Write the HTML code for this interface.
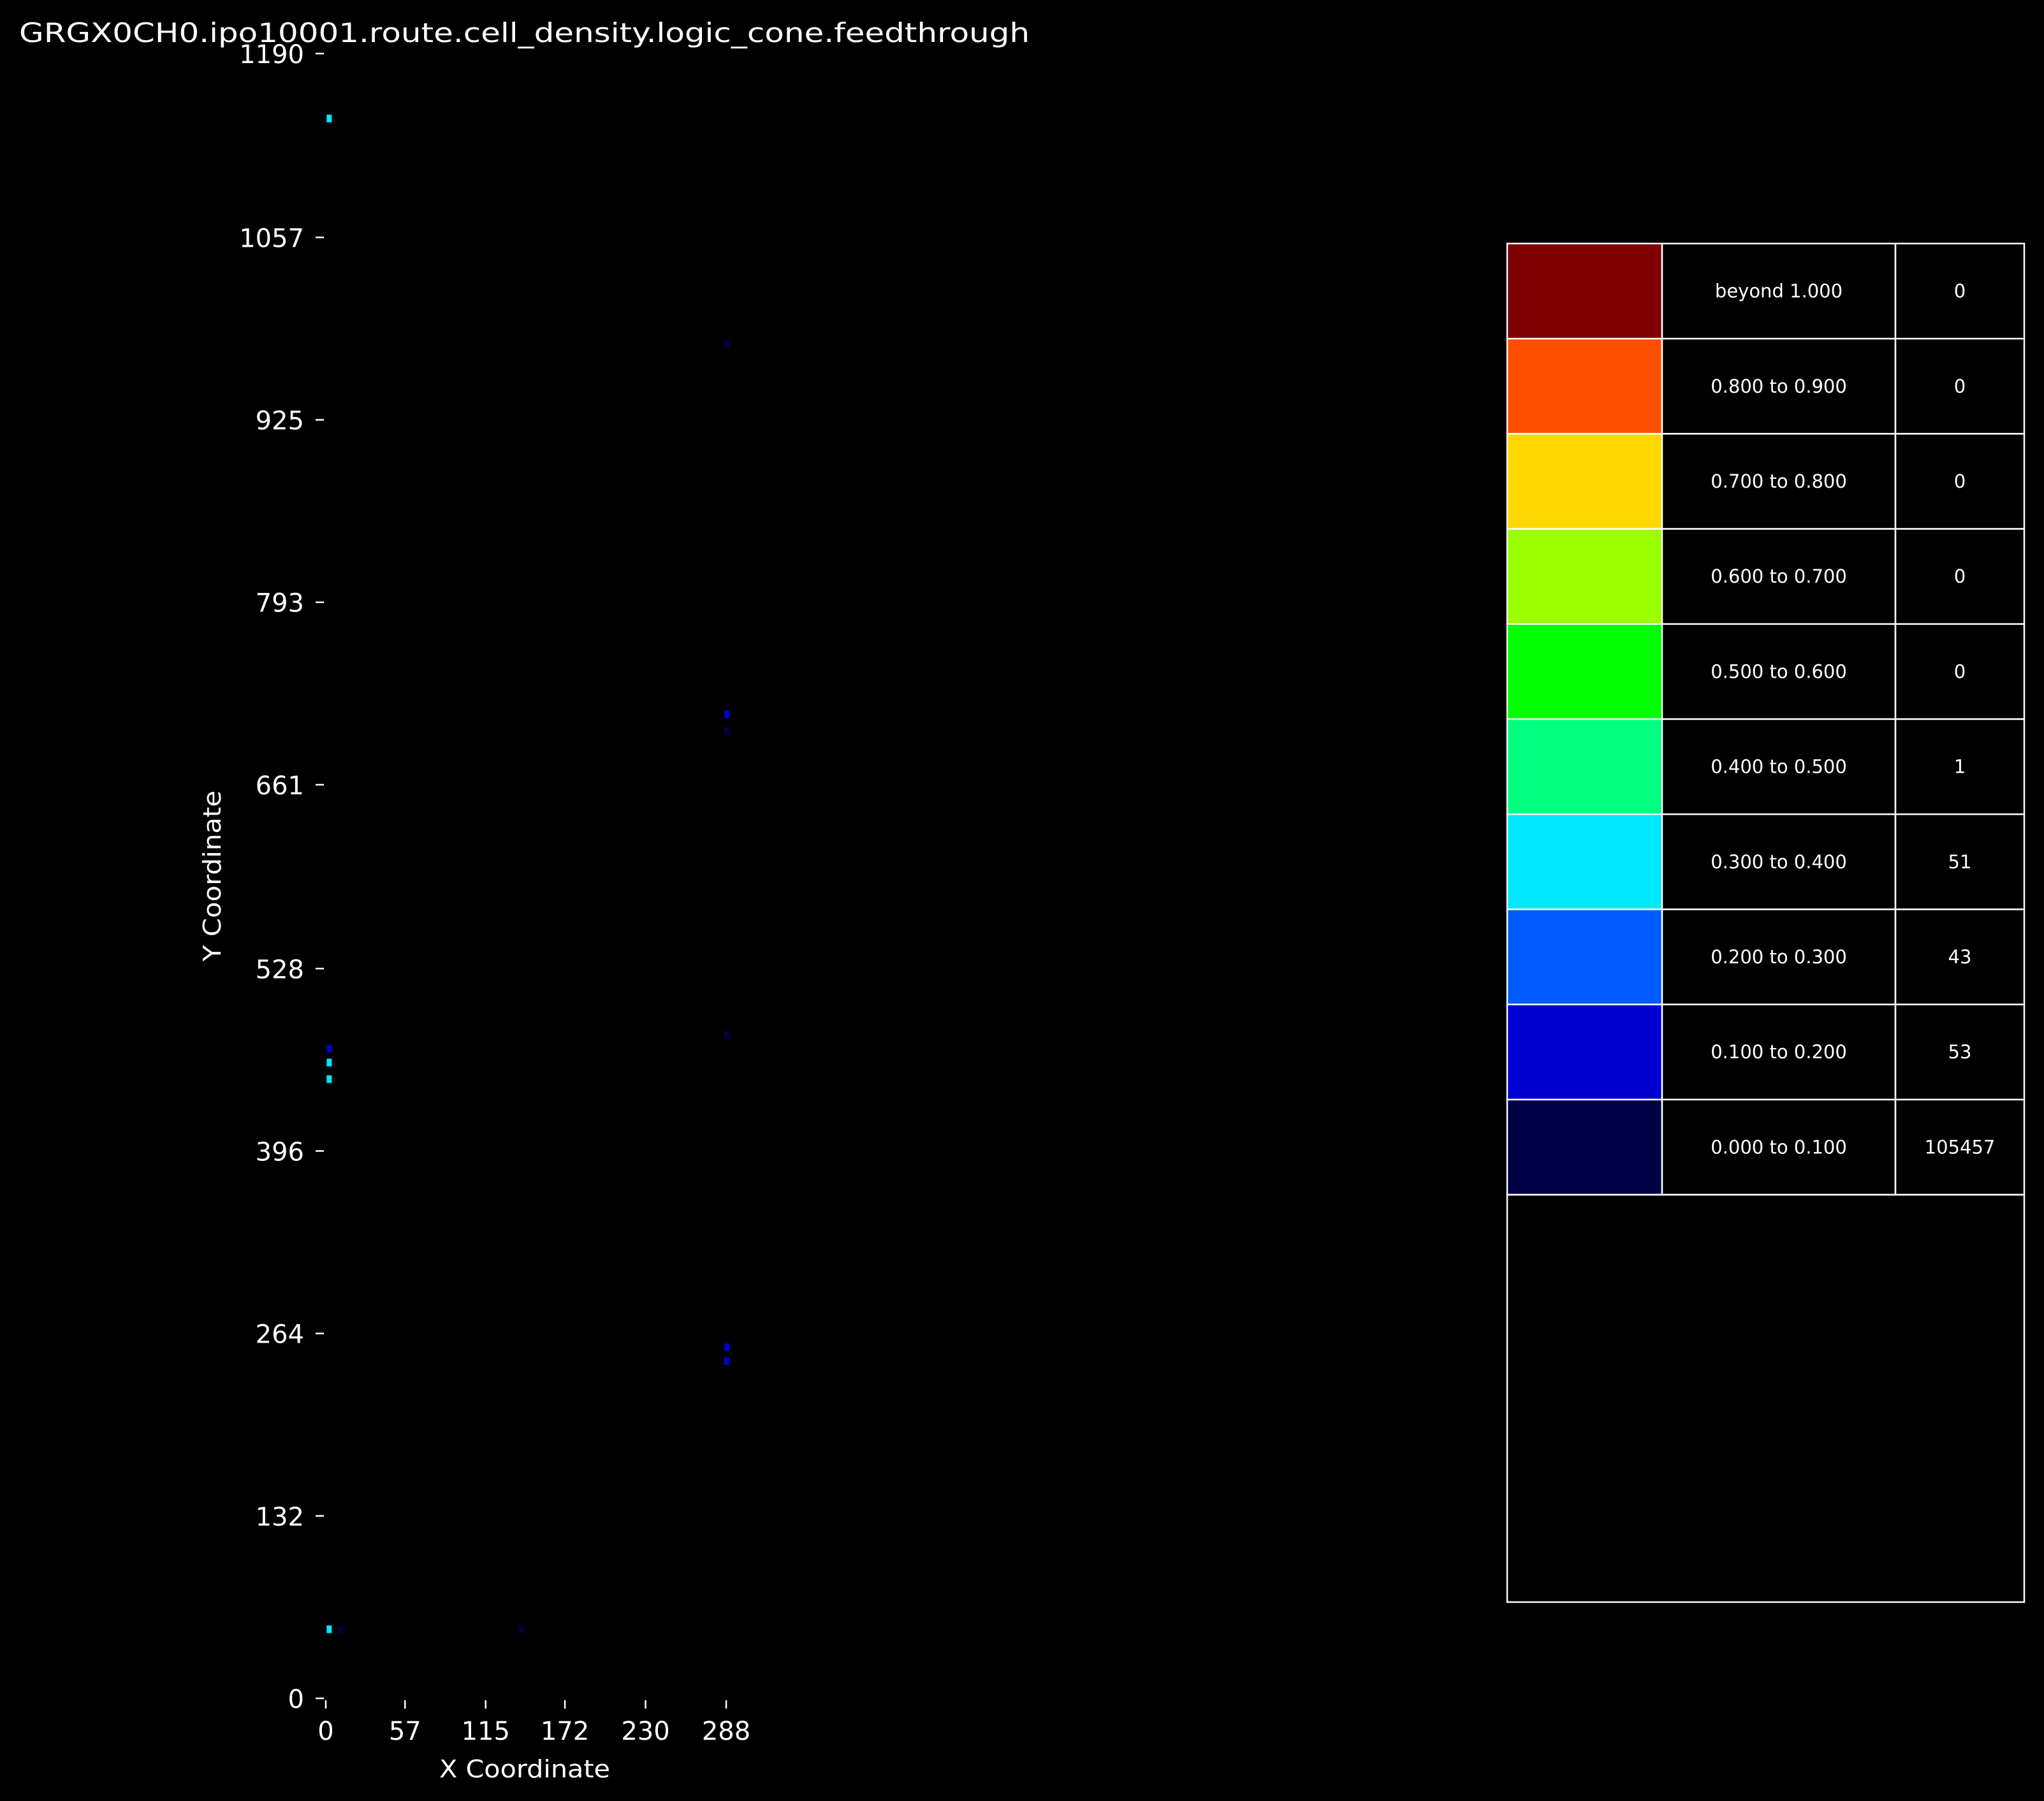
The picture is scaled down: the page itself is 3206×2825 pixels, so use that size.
<!DOCTYPE html>
<html><head><meta charset="utf-8"><style>
html,body{margin:0;padding:0;background:#000;}
svg{display:block;font-family:"DejaVu Sans","Liberation Sans",sans-serif;}
</style></head><body>
<svg id="chart" width="3206" height="2825" viewBox="0 0 3206 2825" xmlns="http://www.w3.org/2000/svg">
<rect width="3206" height="2825" fill="#000"/>
<text x="30" y="66" fill="#fff" font-size="42" textLength="1585" lengthAdjust="spacingAndGlyphs">GRGX0CH0.ipo10001.route.cell_density.logic_cone.feedthrough</text>
<g id="heat"></g>
<g id="yaxis"></g>
<g id="xaxis"></g>
<text x="0" y="0" transform="translate(346,1374) rotate(-90)" text-anchor="middle" fill="#fff" font-size="38" textLength="268" lengthAdjust="spacingAndGlyphs">Y Coordinate</text>
<text x="823" y="2788" text-anchor="middle" fill="#fff" font-size="38" textLength="268" lengthAdjust="spacingAndGlyphs">X Coordinate</text>
<g id="legend"></g>
</svg>
<script>
const xTicks=[0,57,115,172,230,288];
const yTicks=[0,132,264,396,528,661,793,925,1057,1190];
const cellX=[2,2,2,2,288,288,288,288,10,140,2,288,288];
const cellY=[1143,460,448,50,244,712,480,980,50,50,470,254,700];
const cellV=[0.35,0.32,0.34,0.33,0.12,0.12,0.06,0.05,0.07,0.05,0.15,0.15,0.08];
const legendLabels=["beyond 1.000","0.800 to 0.900","0.700 to 0.800","0.600 to 0.700","0.500 to 0.600","0.400 to 0.500","0.300 to 0.400","0.200 to 0.300","0.100 to 0.200","0.000 to 0.100"];
const legendCounts=["0","0","0","0","0","1","51","43","53","105457"];
const legendColors=["#7f0000","#ff5000","#ffd800","#9bff00","#00ff00","#00ff80","#00e8ff","#005cff","#0000d0","#000046"];
const NS="http://www.w3.org/2000/svg";
const X0=511,X1=1139,Y0=2664,Y1=84;
function sx(v){return X0+(v-0)*(X1-X0)/288;}
function sy(v){return Y0-(v-0)*(Y0-Y1)/1190;}
function mk(t,a,p){const e=document.createElementNS(NS,t);for(const k in a)e.setAttribute(k,a[k]);p.appendChild(e);return e;}
function col(v){
  if(v<0.1)return"#000046";if(v<0.2)return"#0000d0";if(v<0.3)return"#005cff";if(v<0.4)return"#00e8ff";if(v<0.5)return"#00ff80";
  if(v<0.6)return"#00ff00";if(v<0.7)return"#9bff00";if(v<0.8)return"#ffd800";if(v<1)return"#ff5000";return"#7f0000";}
const heat=document.getElementById('heat');
for(let i=0;i<cellX.length;i++){
  const r=mk('rect',{x:sx(cellX[i])-3,y:sy(cellY[i])-6,width:8,height:12,fill:col(cellV[i])},heat);
  
  
}
const ya=document.getElementById('yaxis');
yTicks.forEach(t=>{
  const y=sy(t);
  const l=mk('line',{x1:X0-16,x2:X0-3,y1:y,y2:y,stroke:'#fff','stroke-width':2.5},ya);
  
  
  const tx=mk('text',{x:X0-34,y:y+15,'text-anchor':'end',fill:'#fff','font-size':40},ya);
  tx.textContent=t;
  
  
});
const xa=document.getElementById('xaxis');
xTicks.forEach(t=>{
  const x=sx(t);
  const l=mk('line',{x1:x,x2:x,y1:Y0+3,y2:Y0+16,stroke:'#fff','stroke-width':2.5},xa);
  
  
  const tx=mk('text',{x:x,y:Y0+65,'text-anchor':'middle',fill:'#fff','font-size':40},xa);
  tx.textContent=t;
  
  
});
const lg=document.getElementById('legend');
const LX=[2364,2607,2973,3175],LY=382,RH=149.2;
legendLabels.forEach((lab,i)=>{
  const y=LY+i*RH;
  const c=mk('rect',{x:LX[0],y:y,width:LX[1]-LX[0],height:RH,fill:legendColors[i],stroke:'#fff','stroke-width':2.5},lg);
  
  
  const b=mk('rect',{x:LX[1],y:y,width:LX[2]-LX[1],height:RH,fill:'#000',stroke:'#fff','stroke-width':2.5},lg);
  
  
  const b2=mk('rect',{x:LX[2],y:y,width:LX[3]-LX[2],height:RH,fill:'#000',stroke:'#fff','stroke-width':2.5},lg);
  
  
  const t1=mk('text',{x:(LX[1]+LX[2])/2,y:y+RH/2+10,'text-anchor':'middle',fill:'#fff','font-size':29},lg);
  t1.textContent=lab;
  
  
  const t2=mk('text',{x:(LX[2]+LX[3])/2,y:y+RH/2+10,'text-anchor':'middle',fill:'#fff','font-size':29},lg);
  t2.textContent=legendCounts[i];
  
  
});
const eb=mk('rect',{x:LX[0],y:LY+10*RH,width:LX[3]-LX[0],height:2513-(LY+10*RH),fill:'none',stroke:'#fff','stroke-width':2.5},lg);


</script>
</body></html>
